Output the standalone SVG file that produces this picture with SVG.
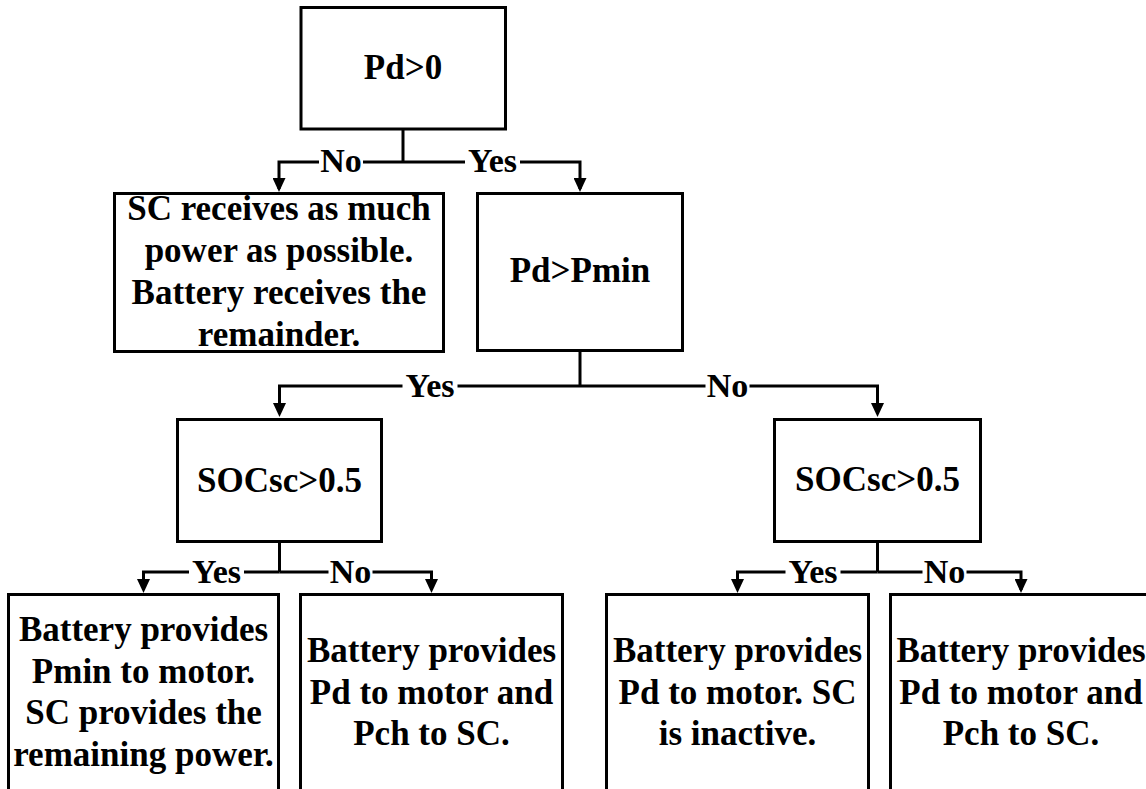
<svg xmlns="http://www.w3.org/2000/svg" width="1146" height="789" viewBox="0 0 1146 789">
<style>
.box{fill:#fff;stroke:#000;stroke-width:3}
.ln{fill:none;stroke:#000;stroke-width:3}
.bg{fill:#fff}
text{font-family:'Liberation Serif',serif !important;font-weight:bold;text-anchor:middle;fill:#000}
</style>
<defs>
<marker id="arr" viewBox="0 0 14 13" refX="11" refY="6.5" markerWidth="14" markerHeight="13" orient="auto" markerUnits="userSpaceOnUse">
<path d="M0,0 L14,6.5 L0,13 z" fill="#000"/>
</marker>
</defs>
<rect width="1146" height="789" fill="#fff"/>
<g id="connectors" font-size="34">
<path class="ln" d="M403,129 V162"/>
<path class="ln" d="M403,162 H279 V189" marker-end="url(#arr)"/>
<path class="ln" d="M403,162 H580 V189" marker-end="url(#arr)"/>
<path class="ln" d="M580,350 V386"/>
<path class="ln" d="M580,386 H279.5 V414" marker-end="url(#arr)"/>
<path class="ln" d="M580,386 H877.5 V414" marker-end="url(#arr)"/>
<path class="ln" d="M279.5,541 V572"/>
<path class="ln" d="M279.5,572 H143.5 V590" marker-end="url(#arr)"/>
<path class="ln" d="M279.5,572 H431.5 V590" marker-end="url(#arr)"/>
<path class="ln" d="M877.5,541 V572"/>
<path class="ln" d="M877.5,572 H737.5 V590" marker-end="url(#arr)"/>
<path class="ln" d="M877.5,572 H1021 V590" marker-end="url(#arr)"/>
<rect class="bg" x="319" y="148" width="44" height="27"/>
<text font-family="Liberation Serif" x="341" y="172">No</text>
<rect class="bg" x="465" y="148" width="55" height="27"/>
<text font-family="Liberation Serif" x="492.5" y="172">Yes</text>
<rect class="bg" x="402.5" y="372" width="55" height="27"/>
<text font-family="Liberation Serif" x="430" y="397">Yes</text>
<rect class="bg" x="705.5" y="372" width="44" height="27"/>
<text font-family="Liberation Serif" x="727.5" y="397">No</text>
<rect class="bg" x="189" y="558" width="55" height="27"/>
<text font-family="Liberation Serif" x="216.5" y="583">Yes</text>
<rect class="bg" x="328.5" y="558" width="44" height="27"/>
<text font-family="Liberation Serif" x="350.5" y="583">No</text>
<rect class="bg" x="785.5" y="558" width="55" height="27"/>
<text font-family="Liberation Serif" x="813" y="583">Yes</text>
<rect class="bg" x="922.5" y="558" width="44" height="27"/>
<text font-family="Liberation Serif" x="944.5" y="583">No</text>
</g>
<g id="nodes" font-size="35">
<g id="n_pd0">
<rect class="box" x="301" y="7.5" width="204.5" height="121.5"/>
<text font-family="Liberation Serif" x="403" y="79">Pd&gt;0</text>
</g>
<g id="n_sc_receives">
<rect class="box" x="114.5" y="193.5" width="329" height="158"/>
<text font-family="Liberation Serif" x="279" y="220">SC receives as much</text>
<text font-family="Liberation Serif" x="279" y="262">power as possible.</text>
<text font-family="Liberation Serif" x="279" y="304">Battery receives the</text>
<text font-family="Liberation Serif" x="279" y="346">remainder.</text>
</g>
<g id="n_pdpmin">
<rect class="box" x="477.5" y="193.5" width="205" height="157"/>
<text font-family="Liberation Serif" x="580" y="282">Pd&gt;Pmin</text>
</g>
<g id="n_soc_left">
<rect class="box" x="177.5" y="419.5" width="204" height="122"/>
<text font-family="Liberation Serif" x="279.5" y="492">SOCsc&gt;0.5</text>
</g>
<g id="n_soc_right">
<rect class="box" x="774.5" y="419.5" width="206" height="122"/>
<text font-family="Liberation Serif" x="877.5" y="491">SOCsc&gt;0.5</text>
</g>
<g id="n_a">
<rect class="box" x="8.5" y="594.5" width="270" height="220"/>
<text font-family="Liberation Serif" x="143.5" y="641">Battery provides</text>
<text font-family="Liberation Serif" x="143.5" y="682.5">Pmin to motor.</text>
<text font-family="Liberation Serif" x="143.5" y="724">SC provides the</text>
<text font-family="Liberation Serif" x="143.5" y="765.5">remaining power.</text>
</g>
<g id="n_b">
<rect class="box" x="300.5" y="594.5" width="262" height="220"/>
<text font-family="Liberation Serif" x="431.5" y="662">Battery provides</text>
<text font-family="Liberation Serif" x="431.5" y="703.5">Pd to motor and</text>
<text font-family="Liberation Serif" x="431.5" y="745">Pch to SC.</text>
</g>
<g id="n_c">
<rect class="box" x="606.5" y="594.5" width="262" height="220"/>
<text font-family="Liberation Serif" x="737.5" y="662">Battery provides</text>
<text font-family="Liberation Serif" x="737.5" y="703.5">Pd to motor. SC</text>
<text font-family="Liberation Serif" x="737.5" y="745">is inactive.</text>
</g>
<g id="n_d">
<rect class="box" x="890.5" y="594.5" width="262" height="220"/>
<text font-family="Liberation Serif" x="1021" y="662">Battery provides</text>
<text font-family="Liberation Serif" x="1021" y="703.5">Pd to motor and</text>
<text font-family="Liberation Serif" x="1021" y="745">Pch to SC.</text>
</g>
</g>
</svg>
